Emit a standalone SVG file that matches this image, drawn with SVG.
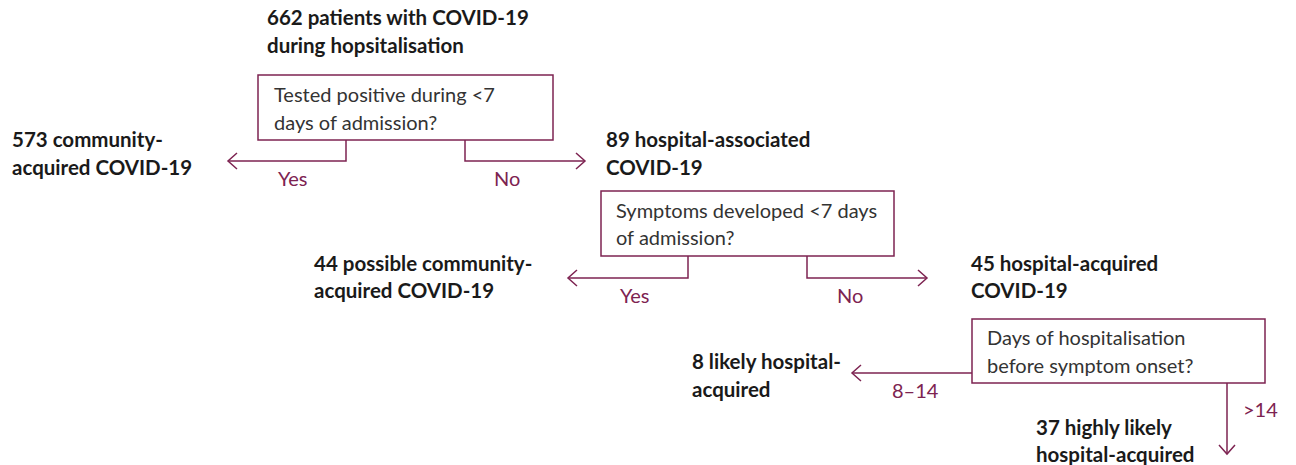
<svg xmlns="http://www.w3.org/2000/svg" width="1296" height="465" viewBox="0 0 1296 465">
<defs>
<style>
.bold{font-family:Lato,"Liberation Sans",sans-serif;font-weight:700;font-size:20.5px;fill:#1a1a1a}
.q{font-family:Lato,"Liberation Sans",sans-serif;font-size:20px;fill:#333333}
.lbl{font-family:Lato,"Liberation Sans",sans-serif;font-size:20px;fill:#7d2351}
.box{fill:#ffffff;stroke:#7d2351;stroke-width:1.5}
.conn{fill:none;stroke:#7d2351;stroke-width:1.5}
</style>
<marker id="arr" viewBox="-12 -10 14 20" markerWidth="14" markerHeight="20" refX="0" refY="0" orient="auto" markerUnits="userSpaceOnUse">
<path d="M-9,-8 L0,0 L-9,8" fill="none" stroke="#7d2351" stroke-width="1.5"/>
</marker>
</defs>
<rect width="1296" height="465" fill="#ffffff"/>
<g id="connectors">
<path class="conn" d="M346,140 V161 H228" marker-end="url(#arr)"/>
<path class="conn" d="M465,140 V161 H585" marker-end="url(#arr)"/>
<path class="conn" d="M688,256 V278 H568" marker-end="url(#arr)"/>
<path class="conn" d="M807,256 V278 H927" marker-end="url(#arr)"/>
<path class="conn" d="M972,373 H852" marker-end="url(#arr)"/>
<path class="conn" d="M1227,383 V454" marker-end="url(#arr)"/>
<text class="lbl" x="278" y="186">Yes</text>
<text class="lbl" x="494" y="186">No</text>
<text class="lbl" x="620" y="303">Yes</text>
<text class="lbl" x="837" y="303">No</text>
<text class="lbl" x="892" y="398">8–14</text>
<text class="lbl" x="1243" y="417">&gt;14</text>
</g>
<g id="n-total">
<text class="bold" x="267" y="25">662 patients with COVID-19</text>
<text class="bold" x="267" y="53">during hopsitalisation</text>
</g>
<g id="q1">
<rect class="box" x="258" y="75" width="295" height="65"/>
<text class="q" x="274" y="102">Tested positive during &lt;7</text>
<text class="q" x="274" y="130">days of admission?</text>
</g>
<g id="n-community">
<text class="bold" x="12" y="147">573 community-</text>
<text class="bold" x="12" y="175">acquired COVID-19</text>
</g>
<g id="n-hosp-assoc">
<text class="bold" x="606" y="147">89 hospital-associated</text>
<text class="bold" x="606" y="175">COVID-19</text>
</g>
<g id="q2">
<rect class="box" x="601" y="191" width="293" height="65"/>
<text class="q" x="616" y="218">Symptoms developed &lt;7 days</text>
<text class="q" x="616" y="245">of admission?</text>
</g>
<g id="n-possible">
<text class="bold" x="314" y="271">44 possible community-</text>
<text class="bold" x="314" y="298">acquired COVID-19</text>
</g>
<g id="n-hosp-acq">
<text class="bold" x="971" y="271">45 hospital-acquired</text>
<text class="bold" x="971" y="298">COVID-19</text>
</g>
<g id="q3">
<rect class="box" x="972" y="319" width="293" height="64"/>
<text class="q" x="987" y="345">Days of hospitalisation</text>
<text class="q" x="987" y="373">before symptom onset?</text>
</g>
<g id="n-likely">
<text class="bold" x="692" y="369">8 likely hospital-</text>
<text class="bold" x="692" y="397">acquired</text>
</g>
<g id="n-highly">
<text class="bold" x="1036" y="435">37 highly likely</text>
<text class="bold" x="1036" y="462">hospital-acquired</text>
</g>
</svg>
